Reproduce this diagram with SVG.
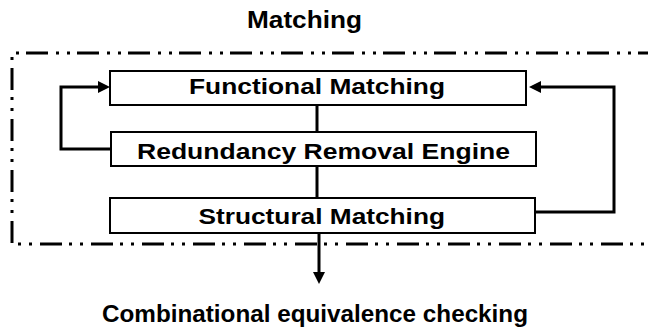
<svg xmlns="http://www.w3.org/2000/svg" width="648" height="328" viewBox="0 0 648 328">
<style>
.box{fill:#fff;stroke:#000;stroke-width:2}
.lbl{font-family:"Liberation Sans",Arial,sans-serif;font-weight:bold;fill:#000}
.con{fill:none;stroke:#000;stroke-width:3}
.frame{fill:none;stroke:#000;stroke-width:3;stroke-dasharray:22 7 3 8 3 8}
</style>
<defs>
<marker id="ah" markerUnits="userSpaceOnUse" markerWidth="14" markerHeight="14" refX="4" refY="6" orient="auto">
<path d="M0,0 L12,6 L0,12 z" fill="#000"/>
</marker>
</defs>
<rect width="648" height="328" fill="#fff"/>
<text class="lbl" x="247" y="28" font-size="23" textLength="115" lengthAdjust="spacingAndGlyphs">Matching</text>
<path id="frame" class="frame" d="M660,53 H12 V244 H660"/>
<g id="connectors">
<path class="con" d="M317,105 V132"/>
<path class="con" d="M317,166 V198"/>
<path class="con" d="M319,233 V276" marker-end="url(#ah)"/>
<path class="con" d="M111,149 H61 V87 H102" marker-end="url(#ah)"/>
<path class="con" d="M535,212 H614 V87 H537" marker-end="url(#ah)"/>
</g>
<g id="functional">
<rect class="box" x="110" y="71" width="416" height="34"/>
<text class="lbl" x="189" y="94" font-size="21.5" textLength="256" lengthAdjust="spacingAndGlyphs">Functional Matching</text>
</g>
<g id="redundancy">
<rect class="box" x="111" y="132" width="425" height="34"/>
<text class="lbl" x="137" y="158.5" font-size="21.5" textLength="373" lengthAdjust="spacingAndGlyphs">Redundancy Removal Engine</text>
</g>
<g id="structural">
<rect class="box" x="110" y="198" width="425" height="35"/>
<text class="lbl" x="198.5" y="223.5" font-size="21.5" textLength="246.5" lengthAdjust="spacingAndGlyphs">Structural Matching</text>
</g>
<text class="lbl" x="102" y="321.5" font-size="23.5" textLength="426" lengthAdjust="spacingAndGlyphs">Combinational equivalence checking</text>
</svg>
